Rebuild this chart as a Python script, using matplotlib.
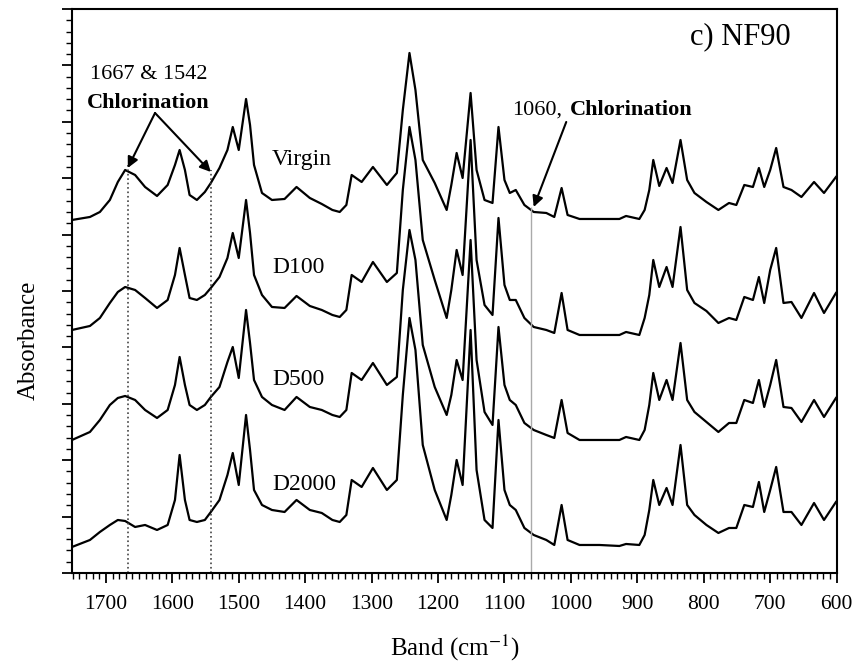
import matplotlib.pyplot as plt
from matplotlib.ticker import MultipleLocator

# FTIR spectra of NF90 (offset, arbitrary absorbance units)
wavenumber = [1751, 1724, 1709, 1694, 1682, 1671, 1656, 1641, 1623, 1607,
              1596, 1589, 1581, 1574, 1563, 1551, 1542, 1529, 1517, 1509,
              1500, 1489, 1483, 1477, 1465, 1450, 1431, 1413, 1393, 1375,
              1359, 1348, 1338, 1330, 1315, 1298, 1277, 1262, 1253, 1243,
              1234, 1223, 1205, 1187, 1180, 1172, 1163, 1151, 1142, 1130,
              1118, 1109, 1100, 1092, 1083, 1070, 1056, 1037, 1025, 1014,
              1005, 987, 957, 927, 917, 897, 889, 882, 876, 867,
              856, 847, 835, 825, 814, 796, 778, 762, 751, 739,
              726, 717, 709, 700, 691, 680, 668, 653, 634, 619, 601]

virgin = [353, 356, 361, 373, 391, 403, 398, 386, 377, 388,
          408, 423, 403, 378, 373, 381, 390, 405, 423, 446,
          423, 474, 448, 408, 380, 373, 374, 386, 375, 369,
          363, 361, 368, 398, 391, 406, 388, 400, 463, 520,
          483, 413, 390, 363, 388, 420, 395, 480, 403, 373,
          370, 446, 393, 380, 383, 368, 361, 360, 356, 385,
          358, 354, 354, 354, 357, 354, 363, 383, 413, 387,
          405, 390, 433, 393, 380, 371, 363, 370, 368, 388,
          386, 405, 386, 403, 425, 386, 383, 376, 391, 380, 396]

d100 = [243, 247, 255, 270, 281, 286, 283, 275, 265, 273,
        298, 325, 298, 275, 273, 278, 285, 296, 315, 340,
        315, 373, 340, 298, 278, 266, 265, 277, 267, 263,
        258, 256, 263, 298, 291, 311, 291, 300, 383, 446,
        413, 333, 293, 255, 283, 323, 298, 433, 313, 268,
        258, 355, 288, 273, 273, 255, 246, 243, 240, 280,
        243, 238, 238, 238, 241, 238, 255, 278, 313, 286,
        306, 286, 346, 283, 270, 262, 250, 255, 253, 276,
        273, 296, 270, 303, 325, 270, 271, 255, 280, 260, 280]

d500 = [133, 141, 153, 168, 175, 177, 173, 163, 155, 163,
        188, 216, 188, 168, 163, 168, 176, 186, 211, 226,
        195, 263, 230, 193, 176, 168, 163, 176, 166, 163,
        158, 156, 163, 200, 193, 210, 188, 196, 283, 343,
        313, 228, 186, 158, 178, 213, 193, 333, 213, 161,
        148, 246, 188, 173, 168, 150, 143, 138, 135, 173,
        140, 133, 133, 133, 136, 133, 143, 168, 200, 173,
        193, 173, 230, 173, 161, 151, 141, 150, 150, 173,
        170, 193, 166, 188, 213, 166, 165, 151, 173, 156, 175]

d2000 = [26, 33, 41, 48, 53, 52, 46, 48, 43, 48,
         73, 118, 73, 53, 51, 53, 61, 73, 98, 120,
         88, 158, 123, 83, 68, 63, 61, 73, 63, 60,
         53, 51, 58, 93, 86, 105, 83, 93, 178, 255,
         223, 128, 83, 53, 78, 113, 88, 243, 103, 53,
         45, 153, 83, 68, 63, 45, 38, 33, 28, 68,
         33, 28, 28, 27, 29, 28, 38, 63, 93, 68,
         85, 68, 128, 68, 58, 48, 40, 45, 45, 68,
         66, 91, 61, 83, 106, 61, 61, 48, 70, 53, 71]

names = ["Virgin", "D100", "D500", "D2000"]


def main():
    plt.rcParams['font.family'] = ['Liberation Serif', 'DejaVu Serif']
    plt.rcParams['mathtext.fontset'] = 'stix'

    fig = plt.figure(figsize=(8.53, 6.70), dpi=100)
    ax = fig.add_axes([0.0844, 0.1448, 0.8968, 0.8418])

    for spec in [virgin, d100, d500, d2000]:
        ax.plot(wavenumber, spec, color='black', linewidth=1.6)

    # spectrum labels
    label_pos = [413, 305, 193, 88]
    for name, y in zip(names, label_pos):
        ax.text(1450, y, name, fontsize=17, va='center', ha='left')

    # marker lines for chlorination bands
    ax.vlines(1667, 0, 408, colors='#444444', linestyles=':', linewidth=1.2)
    ax.vlines(1542, 0, 403, colors='#444444', linestyles=':', linewidth=1.2)
    ax.vlines(1060, 0, 366, colors='#aaaaaa', linewidth=1.0)

    ax.text(1636, 498, "1667 & 1542", fontsize=16, ha='center', va='center')
    ax.text(1636, 470, "Chlorination", fontsize=16, fontweight='bold',
            ha='center', va='center')
    for xt, yt in [(1667, 405), (1542, 401)]:
        ax.annotate("", xy=(xt, yt), xytext=(1626, 460),
                    arrowprops=dict(arrowstyle='-|>', color='black', lw=1.5,
                                    mutation_scale=16, shrinkA=0, shrinkB=0))

    ax.text(1088, 463, "1060,", fontsize=16, ha='left', va='center')
    ax.text(1002, 463, "Chlorination", fontsize=16, fontweight='bold',
            ha='left', va='center')
    ax.annotate("", xy=(1056, 366), xytext=(1007, 451),
                arrowprops=dict(arrowstyle='-|>', color='black', lw=1.5,
                                mutation_scale=16, shrinkA=0, shrinkB=0))

    ax.text(745, 536, "c) NF90", fontsize=22, ha='center', va='center')

    ax.set_xlim(1751, 599.5)
    ax.set_ylim(0, 564)
    ax.xaxis.set_major_locator(MultipleLocator(100))
    ax.xaxis.set_minor_locator(MultipleLocator(10))
    ax.yaxis.set_major_locator(MultipleLocator(56.4))
    ax.yaxis.set_minor_locator(MultipleLocator(11.28))
    ax.tick_params(axis='both', which='major', direction='out', length=7.5,
                   width=1.3, labelsize=15.5, pad=8)
    ax.tick_params(axis='both', which='minor', direction='out', length=4,
                   width=1.0)
    ax.tick_params(axis='y', labelleft=False)
    for sp in ax.spines.values():
        sp.set_linewidth(1.5)

    ax.set_xlabel("Band (cm$^{-1}$)", fontsize=18, labelpad=14)
    ax.set_ylabel("Absorbance", fontsize=18)
    ax.yaxis.set_label_coords(-0.042, 0.413)

    fig.savefig("out.png", dpi=100)


if __name__ == "__main__":
    main()
